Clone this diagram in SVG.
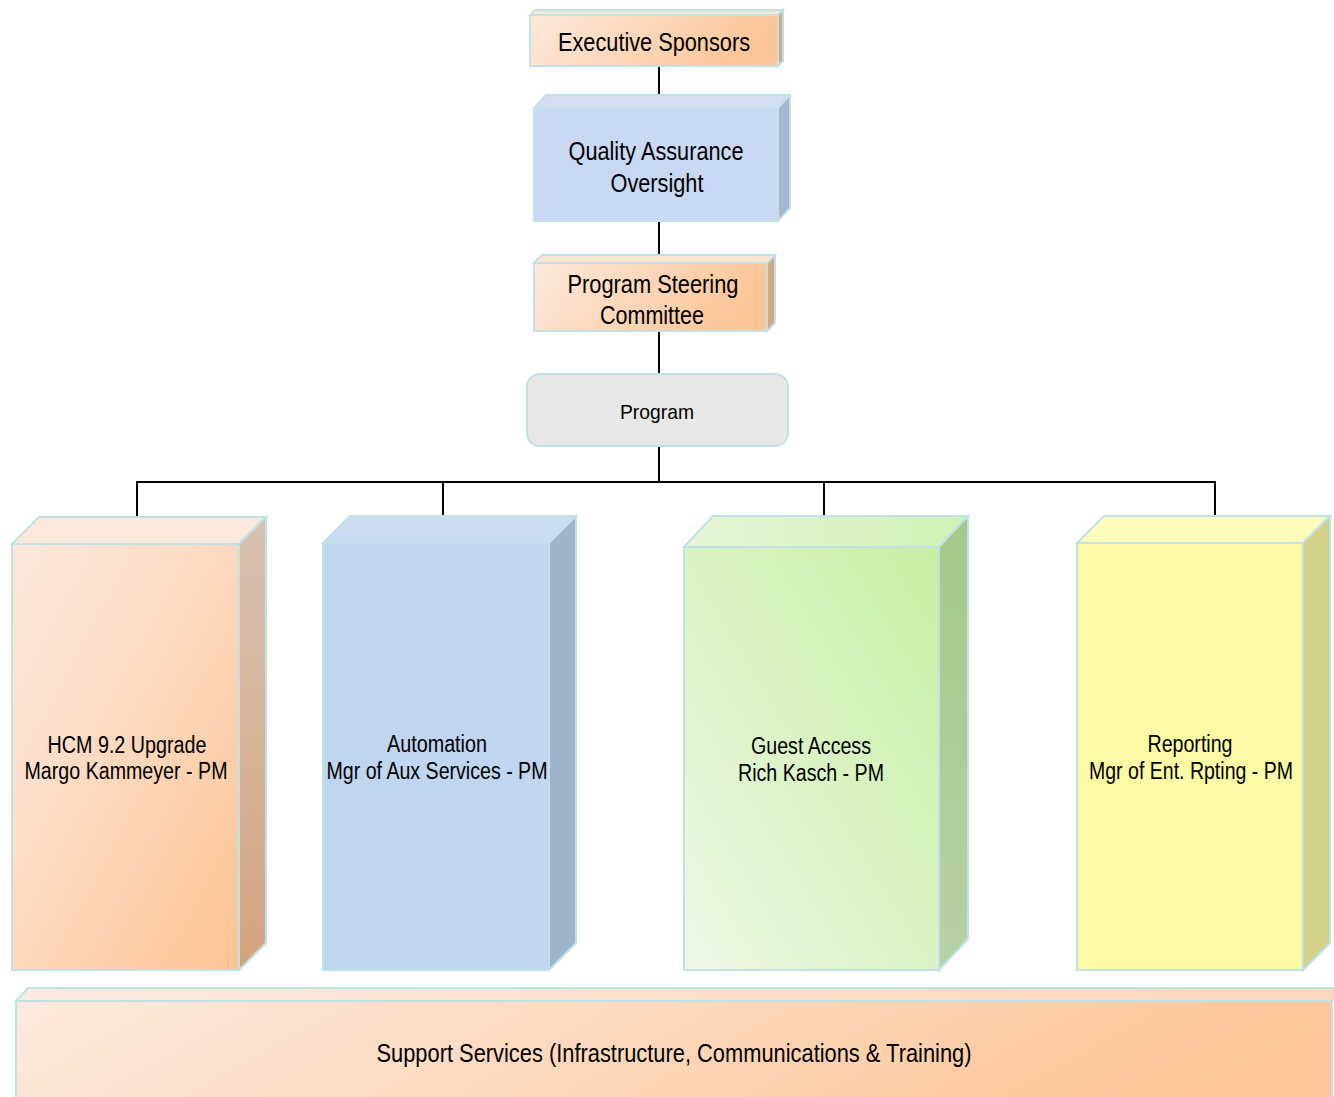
<svg xmlns="http://www.w3.org/2000/svg" width="1334" height="1097" viewBox="0 0 1334 1097">
<defs>
<linearGradient id="peachH" x1="0" y1="0" x2="1" y2="0.2"><stop offset="0" stop-color="#fde9dc"/><stop offset="1" stop-color="#fcc597"/></linearGradient>
<linearGradient id="peachD" x1="0" y1="0" x2="1" y2="1"><stop offset="0" stop-color="#fde8da"/><stop offset="0.3" stop-color="#fde0cc"/><stop offset="1" stop-color="#fcc494"/></linearGradient>
<linearGradient id="peachS" x1="0" y1="0" x2="1" y2="0.15"><stop offset="0" stop-color="#fdeadf"/><stop offset="1" stop-color="#fcc698"/></linearGradient>
<linearGradient id="peachSideV" x1="0" y1="0" x2="0" y2="1"><stop offset="0" stop-color="#d8c1b3"/><stop offset="1" stop-color="#d5a47e"/></linearGradient>
<linearGradient id="greenF" x1="0" y1="1" x2="1" y2="0"><stop offset="0" stop-color="#eef8e6"/><stop offset="1" stop-color="#c7efa3"/></linearGradient>
<linearGradient id="greenT" x1="0" y1="0" x2="1" y2="0"><stop offset="0" stop-color="#e6f6d8"/><stop offset="1" stop-color="#d0f1b4"/></linearGradient>
<linearGradient id="greenSide" x1="0" y1="0" x2="0" y2="1"><stop offset="0" stop-color="#a5c888"/><stop offset="1" stop-color="#b8d0a6"/></linearGradient>
<linearGradient id="peachTop" x1="0" y1="0" x2="1" y2="0"><stop offset="0" stop-color="#fdebe0"/><stop offset="1" stop-color="#fdd6bb"/></linearGradient>
</defs>
<style>
.bx{stroke:#bfe3e5;stroke-width:2;stroke-linejoin:miter}
.ln{stroke:#000;stroke-width:2;fill:none}
text{font-family:"Liberation Sans",Arial,sans-serif;fill:#000;text-anchor:middle}
.t24{font-size:25px}
.t22{font-size:23px}
.t20{font-size:21px}
</style>
<g id="connectors">
<line class="ln" x1="659" y1="66" x2="659" y2="96"/>
<line class="ln" x1="659" y1="221" x2="659" y2="256"/>
<line class="ln" x1="659" y1="331" x2="659" y2="375"/>
<line class="ln" x1="659" y1="446" x2="659" y2="482"/>
<polyline class="ln" points="137,517 137,482 1215,482 1215,517"/>
<line class="ln" x1="443" y1="482" x2="443" y2="516"/>
<line class="ln" x1="824" y1="482" x2="824" y2="516"/>
</g>
<g id="executive-sponsors">
<polygon class="bx" fill="#fde5d4" points="530,15 535,10 783,10 778,15"/>
<polygon class="bx" fill="#d6a882" points="778,15 783,10 783,61 778,66"/>
<rect class="bx" x="530" y="15" width="248" height="51" fill="url(#peachH)"/>
<text class="t24" x="654" y="51" textLength="192" lengthAdjust="spacingAndGlyphs">Executive Sponsors</text>
</g>
<g id="quality-assurance">
<polygon class="bx" fill="#d3def5" points="534,108 546,95 790,95 778,108"/>
<polygon class="bx" fill="#a9b5cf" points="778,108 790,95 790,208 778,221"/>
<rect class="bx" x="534" y="108" width="244" height="113" fill="#cad9f3"/>
<text class="t24" x="656" y="160" textLength="175" lengthAdjust="spacingAndGlyphs">Quality Assurance</text>
<text class="t24" x="657" y="192" textLength="93" lengthAdjust="spacingAndGlyphs">Oversight</text>
</g>
<g id="program-steering-committee">
<polygon class="bx" fill="#fde5d4" points="534,263 542,255 775,255 767,263"/>
<polygon class="bx" fill="#d6a882" points="767,263 775,255 775,323 767,331"/>
<rect class="bx" x="534" y="263" width="233" height="68" fill="url(#peachH)"/>
<text class="t24" x="653" y="293" textLength="171" lengthAdjust="spacingAndGlyphs">Program Steering</text>
<text class="t24" x="652" y="324" textLength="104" lengthAdjust="spacingAndGlyphs">Committee</text>
</g>
<g id="program">
<rect class="bx" x="527" y="374" width="261" height="72" rx="13" ry="13" fill="#e8e8e8"/>
<text class="t20" x="657" y="419" textLength="74" lengthAdjust="spacingAndGlyphs">Program</text>
</g>
<g id="hcm-upgrade">
<polygon class="bx" fill="#fde9dc" points="12,544 39,517 266,517 239,544"/>
<polygon class="bx" fill="url(#peachSideV)" points="239,544 266,517 266,943 239,970"/>
<rect class="bx" x="12" y="544" width="227" height="426" fill="url(#peachD)"/>
<text class="t22" x="127" y="753" textLength="159" lengthAdjust="spacingAndGlyphs">HCM 9.2 Upgrade</text>
<text class="t22" x="126" y="779" textLength="203" lengthAdjust="spacingAndGlyphs">Margo Kammeyer - PM</text>
</g>
<g id="automation">
<polygon class="bx" fill="#cadcf2" points="323,543 350,516 576,516 549,543"/>
<polygon class="bx" fill="#9fb3cb" points="549,543 576,516 576,943 549,970"/>
<rect class="bx" x="323" y="543" width="226" height="427" fill="#c0d5f0"/>
<text class="t22" x="437" y="752" textLength="100" lengthAdjust="spacingAndGlyphs">Automation</text>
<text class="t22" x="437" y="779" textLength="221" lengthAdjust="spacingAndGlyphs">Mgr of Aux Services - PM</text>
</g>
<g id="guest-access">
<polygon class="bx" fill="url(#greenT)" points="684,547 713,516 968,516 939,547"/>
<polygon class="bx" fill="url(#greenSide)" points="939,547 968,516 968,939 939,970"/>
<rect class="bx" x="684" y="547" width="255" height="423" fill="url(#greenF)"/>
<text class="t22" x="811" y="754" textLength="120" lengthAdjust="spacingAndGlyphs">Guest Access</text>
<text class="t22" x="811" y="781" textLength="146" lengthAdjust="spacingAndGlyphs">Rich Kasch - PM</text>
</g>
<g id="reporting">
<polygon class="bx" fill="#fdfbbc" points="1077,543 1104,516 1330,516 1303,543"/>
<polygon class="bx" fill="#d4d18b" points="1303,543 1330,516 1330,943 1303,970"/>
<rect class="bx" x="1077" y="543" width="226" height="427" fill="#fdfaa6"/>
<text class="t22" x="1190" y="752" textLength="85" lengthAdjust="spacingAndGlyphs">Reporting</text>
<text class="t22" x="1191" y="779" textLength="204" lengthAdjust="spacingAndGlyphs">Mgr of Ent. Rpting - PM</text>
</g>
<g id="support-services">
<polygon class="bx" fill="url(#peachTop)" points="16,1001 28,988 1344,988 1332,1001"/>
<rect class="bx" x="16" y="1001" width="1316" height="110" fill="url(#peachS)"/>
<text class="t24" x="674" y="1062" textLength="595" lengthAdjust="spacingAndGlyphs">Support Services (Infrastructure, Communications &amp; Training)</text>
</g>
</svg>
